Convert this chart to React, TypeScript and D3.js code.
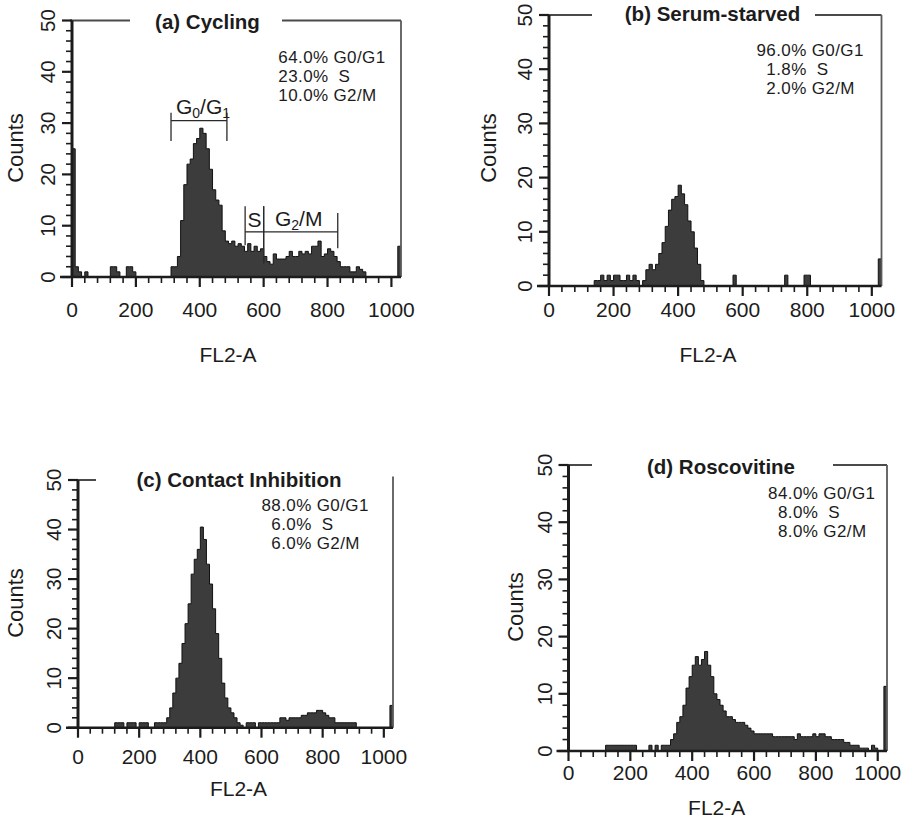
import React from 'react';
import * as d3 from 'd3';

// FL2-A channel bins are 10 channels wide, starting at channel 0
const BIN_WIDTH = 10;
const CHANNEL_MAX = 1030;

const xTickValues = [0, 200, 400, 600, 800, 1000];
const yTickValues = [0, 10, 20, 30, 40, 50];

const phaseLabels = ['G0/G1', 'S', 'G2/M'];

// (a) Cycling
const cyclingCounts = [
  25, 2, 1, 0, 1, 0, 0, 0, 0, 0,
  0, 0, 2, 2, 1, 0, 0, 2, 2, 1,
  0, 0, 0, 0, 0, 0, 0, 0, 0, 0,
  0, 2, 2, 4, 11, 18, 22, 23, 26, 27,
  29, 28, 25, 21, 17, 15, 14, 9, 7, 6.5,
  7, 6, 6.5, 6, 5, 6.5, 5, 6, 5, 5.5,
  4, 3, 2.5, 4.5, 3.5, 3.5, 3.5, 4, 5, 4,
  4, 5, 4.5, 5, 4.5, 6, 6, 7, 4, 4.5,
  5.5, 5, 4, 3, 2, 2, 2, 1, 1, 2,
  1.5, 1, 0, 0, 0, 0, 0, 0, 0, 0,
  0, 0, 6,
];
const cyclingPct = ['64.0%', '23.0%', '10.0%'];

// (b) Serum-starved
const starvedCounts = [
  0, 0, 0, 0, 0, 0, 0, 0, 0, 0,
  0, 0, 0, 0, 1, 1, 2, 1, 2, 1,
  2, 2, 1, 1, 2, 1, 2, 1, 0, 1,
  3, 4, 3, 4, 6, 8, 11, 14, 16, 16.5,
  18.6, 17, 15, 12, 10, 7, 4, 1, 0, 0,
  0, 0, 0, 0, 0, 0, 0, 2, 0, 0,
  0, 0, 0, 0, 0, 0, 0, 0, 0, 0,
  0, 0, 0, 2, 0, 0, 0, 0, 0, 2,
  2, 0, 0, 0, 0, 0, 0, 0, 0, 0,
  0, 0, 0, 0, 0, 0, 0, 0, 0, 0,
  0, 0, 5,
];
const starvedPct = ['96.0%', '1.8%', '2.0%'];

// (c) Contact Inhibition
const contactCounts = [
  0, 0, 0, 0, 0, 0, 0, 0, 0, 0,
  0, 0, 1, 1, 1, 0, 1, 1, 1, 0,
  1, 1, 1, 0, 0, 1, 1, 1, 1, 2,
  4, 7, 10, 13, 17, 21, 25, 31, 34, 36,
  40.5, 38, 33, 29, 24, 19, 14, 9, 6, 4,
  3, 2, 1, 0.5, 0, 1, 1, 1, 0, 1,
  1, 1, 1, 1, 1, 1, 2, 2, 1.5, 2,
  2, 2, 2, 2.5, 2.5, 3, 3, 3, 3.5, 3.5,
  3, 2.5, 2, 2, 1, 1, 1, 1, 1, 1,
  1, 0, 0, 0, 0, 0, 0, 0, 0, 0,
  0, 0, 4.5,
];
const contactPct = ['88.0%', '6.0%', '6.0%'];

// (d) Roscovitine
const roscovitineCounts = [
  0, 0, 0, 0, 0, 0, 0, 0, 0, 0,
  0, 0, 1, 1, 1, 1, 1, 1, 1, 1,
  1, 1, 0, 0, 0, 0, 1, 0, 1, 0,
  1, 1, 1, 2, 3, 5, 6, 8, 11, 13,
  15, 16.5, 15, 16, 17.4, 15, 13, 10, 9, 8,
  7, 6, 6, 5.5, 5, 5, 5, 4.5, 4, 3.5,
  3, 3, 3, 3, 3, 3, 2.5, 2.5, 2.5, 2.5,
  2.5, 2.5, 2.5, 2, 3, 2.5, 2.5, 2.5, 2.5, 3,
  2.5, 3, 3, 2.5, 2.5, 2, 2, 2, 2, 1.5,
  1.5, 1, 1, 1, 0.5, 0.5, 0.5, 0, 1, 0.5,
  0, 0, 11.3,
];
const roscovitinePct = ['84.0%', '8.0%', '8.0%'];

// Gates marked on the cycling histogram
const cyclingGates = [
  { from: 310, to: 485, level: 30.5, edgeTop: [32, 32], edgeBottom: [26.5, 26.5] },
  { from: 542, to: 600, level: 8.8, edgeTop: [13.8, 13.8], edgeBottom: [6.2, 2.7] },
  { from: 600, to: 832, level: 8.8, edgeTop: [13.8, 12.5], edgeBottom: [2.7, 5.6] },
];

const FONT = "'Liberation Sans', Arial, Helvetica, sans-serif";
const INK = '#1c1c1c';

type Panel = {
  title: string;
  counts: number[];
  pct: string[];
  x0: number; xr: number; yb: number; yt: number;
  titleX: number; titleY: number;
  topSegments: [number, number][];
  rightTop: number;
  pctX: number; pctY: number[];
  countsX: number; countsY: number;
  xLabelY: number;
  fl2X: number; fl2Y: number;
  gates?: typeof cyclingGates;
};

const panels: Panel[] = [
  {
    title: '(a) Cycling', counts: cyclingCounts, pct: cyclingPct,
    x0: 72, xr: 401, yb: 277, yt: 20.5,
    titleX: 207.5, titleY: 29,
    topSegments: [[70, 130], [282, 401]], rightTop: 20.5,
    pctX: 328.5, pctY: [62.5, 81.5, 100.5],
    countsX: 23, countsY: 148,
    xLabelY: 317, fl2X: 228, fl2Y: 362,
    gates: cyclingGates,
  },
  {
    title: '(b) Serum-starved', counts: starvedCounts, pct: starvedPct,
    x0: 549, xr: 881.5, yb: 286, yt: 15,
    titleX: 712.5, titleY: 20.5,
    topSegments: [[547, 592], [815, 881.5]], rightTop: 15,
    pctX: 806.7, pctY: [56, 75, 94],
    countsX: 496, countsY: 148,
    xLabelY: 317, fl2X: 708, fl2Y: 362,
  },
  {
    title: '(c) Contact Inhibition', counts: contactCounts, pct: contactPct,
    x0: 78, xr: 393, yb: 727.7, yt: 480,
    titleX: 239, titleY: 487,
    topSegments: [[75, 96]], rightTop: 476.5,
    pctX: 311.7, pctY: [511, 530, 549],
    countsX: 23, countsY: 603,
    xLabelY: 764, fl2X: 238.5, fl2Y: 796,
  },
  {
    title: '(d) Roscovitine', counts: roscovitineCounts, pct: roscovitinePct,
    x0: 568.5, xr: 887, yb: 751, yt: 465,
    titleX: 721, titleY: 473.5,
    topSegments: [[567, 592], [833, 887]], rightTop: 465,
    pctX: 818.3, pctY: [499, 518, 537],
    countsX: 523, countsY: 607,
    xLabelY: 780, fl2X: 716.7, fl2Y: 815,
  },
];

function HistogramPanel({ p }: { p: Panel }) {
  const x = d3.scaleLinear().domain([0, CHANNEL_MAX]).range([p.x0, p.xr]);
  const y = d3.scaleLinear().domain([0, 50]).range([p.yb, p.yt]);

  const pts: [number, number][] = p.counts.map((c, i) => [i * BIN_WIDTH, c]);
  pts.push([p.counts.length * BIN_WIDTH, p.counts[p.counts.length - 1]]);
  const area = d3
    .area<[number, number]>()
    .x((d) => x(d[0]))
    .y0(y(0))
    .y1((d) => y(d[1]))
    .curve(d3.curveStepAfter);
  const line = d3
    .line<[number, number]>()
    .x((d) => x(d[0]))
    .y((d) => y(d[1]))
    .curve(d3.curveStepAfter);

  const xMinor = d3.range(0, 1001, 40);
  const yMinor = d3.range(0, 51, 2);

  return (
    <g>
      {/* histogram */}
      <path d={area(pts) || ''} fill="#3c3c3c" />
      <path d={line(pts) || ''} fill="none" stroke="#111" strokeWidth={1} />

      {/* frame: top with title gap, right side */}
      {p.topSegments.map(([a, b], i) => (
        <line key={i} x1={a} x2={b} y1={y(50)} y2={y(50)} stroke="#4a4a4a" strokeWidth={2} />
      ))}
      <line x1={p.xr} x2={p.xr} y1={p.rightTop} y2={y(0)} stroke="#5a5a5a" strokeWidth={1.8} />

      {/* x axis */}
      <line x1={p.x0 - 12} x2={p.xr} y1={y(0)} y2={y(0)} stroke={INK} strokeWidth={2.5} />
      {xMinor.map((v) => {
        const major = v % 200 === 0;
        return (
          <line key={v} x1={x(v)} x2={x(v)} y1={y(0)} y2={y(0) + (major ? 10 : 6)} stroke={INK} strokeWidth={major ? 2.2 : 1.6} />
        );
      })}
      {xTickValues.map((v) => (
        <text key={v} x={x(v)} y={p.xLabelY} textAnchor="middle" fontFamily={FONT} fontSize={21} fill={INK}>
          {v}
        </text>
      ))}

      {/* y axis */}
      <line x1={p.x0} x2={p.x0} y1={y(0) + 1} y2={y(50)} stroke={INK} strokeWidth={3} />
      {yMinor.map((v) => {
        const major = v % 10 === 0;
        return (
          <line key={v} x1={p.x0} x2={p.x0 - (major ? 10 : 6)} y1={y(v)} y2={y(v)} stroke={INK} strokeWidth={major ? 2.2 : 1.6} />
        );
      })}
      {yTickValues.map((v) => (
        <text
          key={v}
          transform={`translate(${p.x0 - 17},${y(v)}) rotate(-90)`}
          textAnchor="middle"
          fontFamily={FONT}
          fontSize={20.5}
          fill={INK}
        >
          {v}
        </text>
      ))}

      {/* axis titles */}
      <text
        transform={`translate(${p.countsX},${p.countsY}) rotate(-90)`}
        textAnchor="middle"
        fontFamily={FONT}
        fontSize={22}
        fill={INK}
      >
        Counts
      </text>
      <text x={p.fl2X} y={p.fl2Y} textAnchor="middle" fontFamily={FONT} fontSize={21} fill={INK}>
        FL2-A
      </text>

      {/* title */}
      <text x={p.titleX} y={p.titleY} textAnchor="middle" fontFamily={FONT} fontSize={20.5} fontWeight="bold" fill={INK}>
        {p.title}
      </text>

      {/* phase percentages: right-aligned values, labels after */}
      {p.pct.map((v, i) => (
        <g key={i} fontFamily={FONT} fontSize={17} fill={INK} letterSpacing={0.4}>
          <text x={p.pctX} y={p.pctY[i]} textAnchor="end">
            {v}
          </text>
          <text x={p.pctX + (phaseLabels[i] === 'S' ? 10 : 5)} y={p.pctY[i]} textAnchor="start">
            {phaseLabels[i]}
          </text>
        </g>
      ))}

      {/* gates */}
      {p.gates
        ? p.gates.map((g, i) => (
            <g key={i} stroke="#2a2a2a" strokeWidth={1.3}>
              <line x1={x(g.from)} x2={x(g.to)} y1={y(g.level)} y2={y(g.level)} />
              <line x1={x(g.from)} x2={x(g.from)} y1={y(g.edgeTop[0])} y2={y(g.edgeBottom[0])} />
              <line x1={x(g.to)} x2={x(g.to)} y1={y(g.edgeTop[1])} y2={y(g.edgeBottom[1])} />
            </g>
          ))
        : null}
      {p.gates ? (
        <g fontFamily={FONT} fill={INK}>
          <text x={x((p.gates[0].from + p.gates[0].to) / 2) + 4} y={y(p.gates[0].level) - 7} textAnchor="middle" fontSize={21}>
            <tspan>G</tspan>
            <tspan fontSize={14} dy={4}>0</tspan>
            <tspan dy={-4}>/G</tspan>
            <tspan fontSize={14} dy={4}>1</tspan>
          </text>
          <text x={x((p.gates[1].from + p.gates[1].to) / 2)} y={y(p.gates[1].level) - 5} textAnchor="middle" fontSize={21}>
            S
          </text>
          <text x={x((p.gates[2].from + p.gates[2].to) / 2) - 2} y={y(p.gates[2].level) - 6} textAnchor="middle" fontSize={21}>
            <tspan>G</tspan>
            <tspan fontSize={14} dy={4}>2</tspan>
            <tspan dy={-4}>/M</tspan>
          </text>
        </g>
      ) : null}
    </g>
  );
}

export default function App() {
  return (
    <svg
      width={911}
      height={822}
      viewBox="0 0 911 822"
      style={{ position: 'absolute', left: 0, top: 0, background: '#fff' }}
    >
      <rect x={0} y={0} width={911} height={822} fill="#fff" />
      {panels.map((p) => (
        <HistogramPanel key={p.title} p={p} />
      ))}
    </svg>
  );
}
